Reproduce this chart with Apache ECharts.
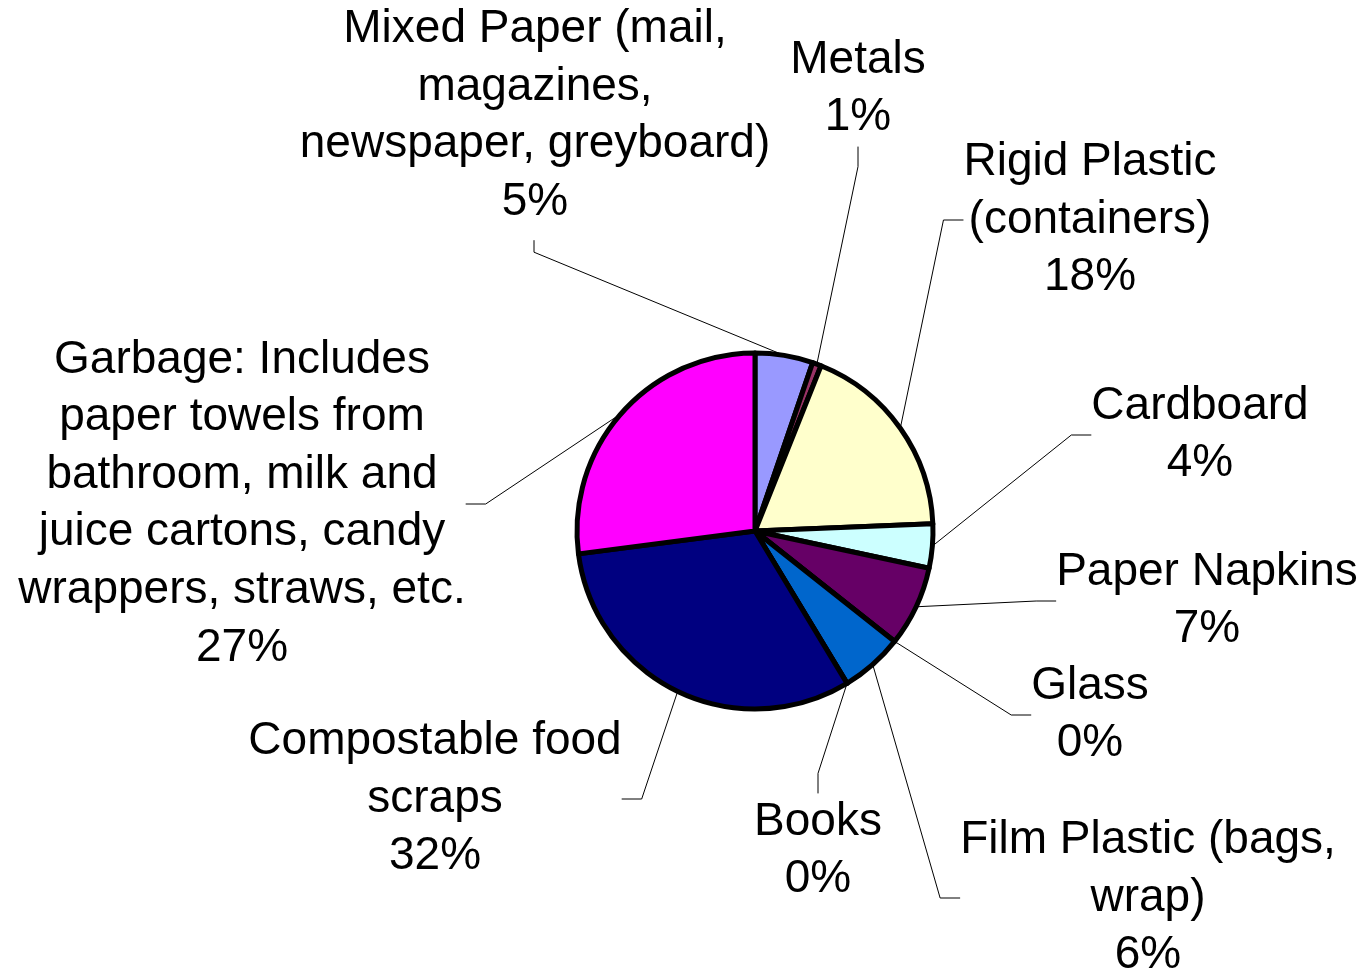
<!DOCTYPE html>
<html>
<head>
<meta charset="utf-8">
<script src="https://cdn.jsdelivr.net/npm/echarts@6/dist/echarts.min.js"></script>
<style>
  html, body { margin: 0; padding: 0; background: #ffffff; }
  #chart { width: 1367px; height: 971px; }
</style>
</head>
<body>
<div id="chart"></div>
<script>
// ---- data ----
const categories = [
  'Mixed Paper (mail,\nmagazines,\nnewspaper, greyboard)',
  'Metals',
  'Rigid Plastic\n(containers)',
  'Cardboard',
  'Paper Napkins',
  'Glass',
  'Film Plastic (bags,\nwrap)',
  'Books',
  'Compostable food\nscraps',
  'Garbage: Includes\npaper towels from\nbathroom, milk and\njuice cartons, candy\nwrappers, straws, etc.'
];
const values = [5.25, 0.8, 18.3, 4.0, 7.3, 0, 5.7, 0, 31.6, 27.05];
const colors = ['#9999FF', '#993366', '#FFFFCC', '#CCFFFF', '#660066',
                '#FF8080', '#0066CC', '#CCCCFF', '#000080', '#FF00FF'];

// label block centres (layout only)
const labelPos = [
  [535, 116], [858, 89], [1090, 220], [1200, 435], [1207, 601],
  [1090, 715], [1148, 898], [818, 851], [435, 799], [242, 504]
];

const chart = echarts.init(document.getElementById('chart'), null, { renderer: 'canvas' });

chart.setOption({
  backgroundColor: '#ffffff',
  animation: false,
  series: [{
    type: 'pie',
    center: [755, 531],
    radius: 178,
    startAngle: 90,
    clockwise: true,
    avoidLabelOverlap: false,
    data: categories.map((c, i) => ({
      name: c,
      value: values[i],
      itemStyle: { color: colors[i] }
    })),
    itemStyle: { borderColor: '#000000', borderWidth: 5 },
    label: {
      show: true,
      position: 'outside',
      formatter: p => p.name + '\n' + Math.round(p.percent) + '%',
      fontFamily: 'Liberation Sans, Arial, sans-serif',
      fontSize: 46,
      lineHeight: 57.6,
      color: '#000000',
      align: 'center'
    },
    labelLine: {
      show: true,
      length: 20,
      length2: 20,
      lineStyle: { color: '#000000', width: 1 }
    },
    labelLayout: params => {
      const i = params.dataIndex;
      const out = {
        x: labelPos[i][0],
        y: labelPos[i][1],
        align: 'center',
        verticalAlign: 'middle',
        moveOverlap: false,
        hideOverlap: false
      };
      if (i === 0 && params.labelLinePoints) {
        // connect to the bottom of the label block, as in the original
        const p0 = params.labelLinePoints[0];
        const bottom = labelPos[i][1] + params.labelRect.height / 2;
        out.labelLinePoints = [
          [p0[0], p0[1]],
          [labelPos[i][0] - 1, bottom + 21],
          [labelPos[i][0] - 1, bottom + 9]
        ];
      }
      return out;
    },
    emphasis: { disabled: true }
  }]
});
</script>
</body>
</html>
